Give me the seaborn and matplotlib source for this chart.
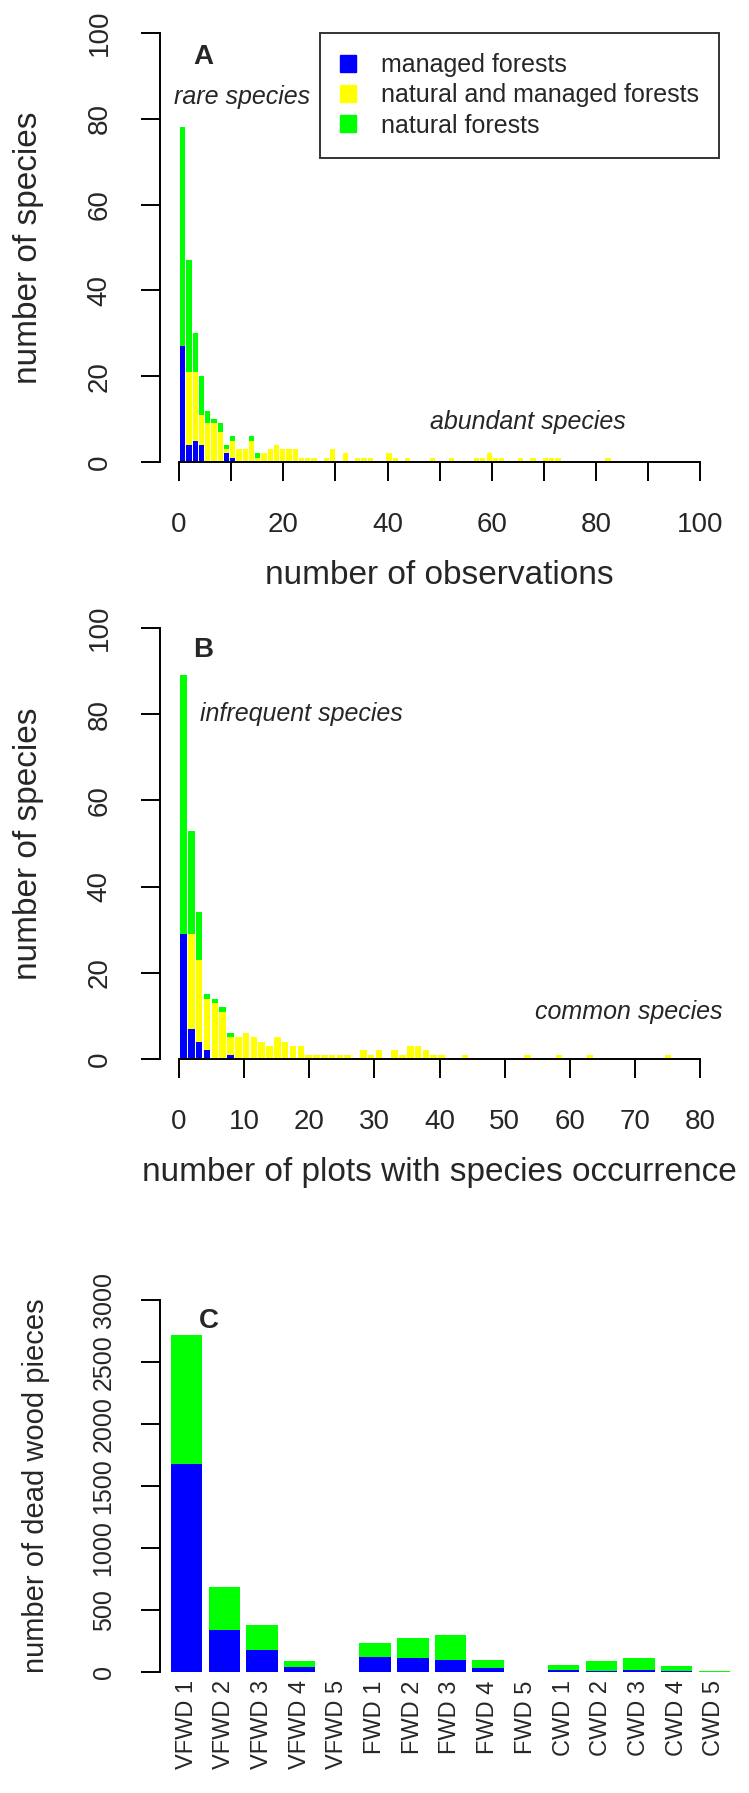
import numpy as np
import pandas as pd
import matplotlib
matplotlib.use("Agg")
import matplotlib.pyplot as plt
import seaborn as sns
from matplotlib.patches import Patch

# A: species per number of observations (bar k = k observations)
managed_a = [27, 4, 5, 4, 0, 0, 0, 2, 1, 0,
             0, 0, 0, 0, 0, 0, 0, 0, 0, 0,
             0, 0, 0, 0, 0, 0, 0, 0, 0, 0,
             0, 0, 0, 0, 0, 0, 0, 0, 0, 0,
             0, 0, 0, 0, 0, 0, 0, 0, 0, 0,
             0, 0, 0, 0, 0, 0, 0, 0, 0, 0,
             0, 0, 0, 0, 0, 0, 0, 0, 0]
both_a = [0, 17, 16, 7, 9, 9, 7, 1, 4, 3,
          3, 5, 1, 2, 3, 4, 3, 3, 3, 1,
          1, 1, 0, 1, 3, 0, 2, 0, 1, 1,
          1, 0, 0, 2, 1, 0, 1, 0, 0, 0,
          1, 0, 0, 1, 0, 0, 0, 1, 1, 2,
          1, 1, 0, 0, 1, 0, 1, 0, 1, 1,
          1, 0, 0, 0, 0, 0, 0, 0, 1]
natural_a = [51, 26, 9, 9, 3, 1, 2, 1, 1, 0,
             0, 1, 1, 0, 0, 0, 0, 0, 0, 0,
             0, 0, 0, 0, 0, 0, 0, 0, 0, 0,
             0, 0, 0, 0, 0, 0, 0, 0, 0, 0,
             0, 0, 0, 0, 0, 0, 0, 0, 0, 0,
             0, 0, 0, 0, 0, 0, 0, 0, 0, 0,
             0, 0, 0, 0, 0, 0, 0, 0, 0]

# B: species per number of plots with occurrence
managed_b = [29, 7, 4, 2, 0, 0, 1, 0, 0, 0,
             0, 0, 0, 0, 0, 0, 0, 0, 0, 0,
             0, 0, 0, 0, 0, 0, 0, 0, 0, 0,
             0, 0, 0, 0, 0, 0, 0, 0, 0, 0,
             0, 0, 0, 0, 0, 0, 0, 0, 0, 0,
             0, 0, 0, 0, 0, 0, 0, 0, 0, 0,
             0, 0, 0]
both_b = [0, 22, 19, 12, 13, 11, 4, 5, 6, 5,
          4, 3, 5, 4, 3, 3, 1, 1, 1, 1,
          1, 1, 0, 2, 1, 2, 0, 2, 1, 3,
          3, 2, 1, 1, 0, 0, 1, 0, 0, 0,
          0, 0, 0, 0, 1, 0, 0, 0, 1, 0,
          0, 0, 1, 0, 0, 0, 0, 0, 0, 0,
          0, 0, 1]
natural_b = [60, 24, 11, 1, 1, 1, 1, 0, 0, 0,
             0, 0, 0, 0, 0, 0, 0, 0, 0, 0,
             0, 0, 0, 0, 0, 0, 0, 0, 0, 0,
             0, 0, 0, 0, 0, 0, 0, 0, 0, 0,
             0, 0, 0, 0, 0, 0, 0, 0, 0, 0,
             0, 0, 0, 0, 0, 0, 0, 0, 0, 0,
             0, 0, 0]

# C: dead wood pieces per class
wood_classes = ["VFWD 1", "VFWD 2", "VFWD 3", "VFWD 4", "VFWD 5",
                "FWD 1", "FWD 2", "FWD 3", "FWD 4", "FWD 5",
                "CWD 1", "CWD 2", "CWD 3", "CWD 4", "CWD 5"]
managed_c = [1680, 340, 180, 40, 0, 120, 110, 95, 30, 0, 20, 5, 15, 10, 0]
natural_c = [1040, 345, 200, 45, 0, 110, 165, 200, 70, 0, 35, 85, 95, 40, 8]

BLUE, YELLOW, GREEN = "#0000FF", "#FFFF00", "#00FF00"

sns.set_theme(style="white")
plt.rcParams["font.family"] = ["Liberation Sans", "DejaVu Sans"]

W, H = 749, 1793
fig = plt.figure(figsize=(W / 100, H / 100), dpi=100)


def px_axes(left, top, right, bottom):
    return fig.add_axes([left / W, 1 - bottom / H, (right - left) / W, (bottom - top) / H])


def style_axes(ax, ysize=20):
    for s in ["top", "right"]:
        ax.spines[s].set_visible(False)
    for s in ["left", "bottom"]:
        ax.spines[s].set_linewidth(1.4)
        ax.spines[s].set_color("black")
    ax.tick_params(direction="out", length=14, width=1.4, color="black",
                   labelsize=20, pad=8, left=True, bottom=True)
    ax.tick_params(axis="y", labelsize=ysize)
    for lbl in ax.get_yticklabels():
        lbl.set_rotation(90)
        lbl.set_va("center")


def stacked_hist(ax, managed, both, natural):
    # R barplot layout: width 1, space 0.2
    k = np.arange(1, len(managed) + 1)
    df = pd.DataFrame({"pos": k * 1.2 - 0.5, "managed": managed,
                       "both": both, "natural": natural})
    df["mb"] = df["managed"] + df["both"]
    df["total"] = df["mb"] + df["natural"]
    for col, c in [("total", GREEN), ("mb", YELLOW), ("managed", BLUE)]:
        sns.barplot(data=df, x="pos", y=col, native_scale=True, width=1 / 1.2,
                    color=c, saturation=1, errorbar=None, linewidth=0, ax=ax)


# ---- A
axA = px_axes(160, 33, 719, 462)
stacked_hist(axA, managed_a, both_a, natural_a)
axA.set_xlim(-3.65, 103.6)
axA.set_ylim(0, 100)
axA.set_xticks(np.arange(0, 101, 10))
axA.set_xticklabels([str(v) if v % 20 == 0 else "" for v in range(0, 101, 10)])
axA.set_yticks(np.arange(0, 101, 20))
axA.spines["bottom"].set_bounds(0, 100)
axA.spines["left"].set_bounds(0, 100)
style_axes(axA)
axA.tick_params(axis="x", pad=22)
axA.tick_params(axis="y", pad=20)
axA.set_xlabel("number of observations", fontsize=24, labelpad=16)
axA.set_ylabel("number of species", fontsize=24, labelpad=31)
axA.text(4.6, 94.5, "A", fontsize=20, fontweight="bold", ha="center", va="center")
axA.text(12, 85, "rare species", fontsize=18, style="italic", ha="center", va="center")
axA.text(67, 9.3, "abundant species", fontsize=18, style="italic", ha="center", va="center")
handles = [Patch(color=BLUE), Patch(color=YELLOW), Patch(color=GREEN)]
leg = axA.legend(handles, ["managed forests", "natural and managed forests", "natural forests"],
                 loc="upper right", borderaxespad=0, fontsize=18, frameon=True, fancybox=False,
                 handlelength=0.65, handleheight=0.65, handletextpad=1.0, labelspacing=0.25,
                 borderpad=0.8, edgecolor="black")
leg.get_frame().set_linewidth(1.4)

# ---- B
axB = px_axes(160, 628, 719, 1059)
stacked_hist(axB, managed_b, both_b, natural_b)
axB.set_xlim(-2.92, 82.9)
axB.set_ylim(0, 100)
axB.set_xticks(np.arange(0, 81, 10))
axB.set_yticks(np.arange(0, 101, 20))
axB.spines["bottom"].set_bounds(0, 80)
axB.spines["left"].set_bounds(0, 100)
style_axes(axB)
axB.tick_params(axis="x", pad=22)
axB.tick_params(axis="y", pad=20)
axB.set_xlabel("number of plots with species occurrence", fontsize=24, labelpad=16)
axB.set_ylabel("number of species", fontsize=24, labelpad=31)
axB.text(3.7, 95, "B", fontsize=20, fontweight="bold", ha="center", va="center")
axB.text(3.2, 80, "infrequent species", fontsize=18, style="italic", ha="left", va="center")
axB.text(69, 11, "common species", fontsize=18, style="italic", ha="center", va="center")

# ---- C
axC = px_axes(160, 1300, 741, 1672)
dfc = pd.DataFrame({"cls": wood_classes, "managed": managed_c, "natural": natural_c})
dfc["total"] = dfc["managed"] + dfc["natural"]
for col, c in [("total", GREEN), ("managed", BLUE)]:
    sns.barplot(data=dfc, x="cls", y=col, order=wood_classes, width=1 / 1.2,
                color=c, saturation=1, errorbar=None, linewidth=0, ax=axC)
axC.set_xlim(-0.708, 14.708)
axC.set_ylim(0, 3000)
axC.set_yticks(np.arange(0, 3001, 500))
axC.spines["left"].set_bounds(0, 3000)
style_axes(axC, ysize=18)
axC.spines["bottom"].set_visible(False)
axC.tick_params(axis="x", bottom=False, length=0, labelsize=17, pad=6)
for lbl in axC.get_xticklabels():
    lbl.set_rotation(90)
axC.tick_params(axis="y", pad=18)
axC.set_xlabel("")
axC.set_ylabel("number of dead wood pieces", fontsize=21, labelpad=30)
axC.text(0.6, 2830, "C", fontsize=20, fontweight="bold", ha="center", va="center")

fig.savefig("out.png", dpi=100, facecolor="white")
